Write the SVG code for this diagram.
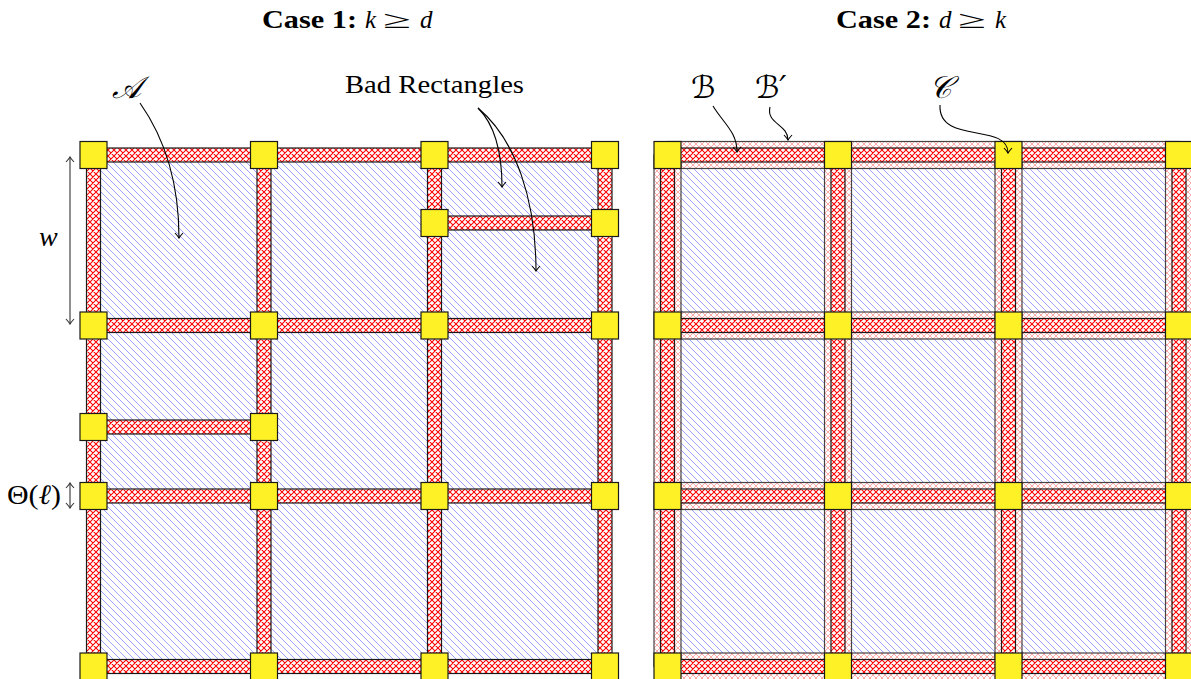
<svg xmlns="http://www.w3.org/2000/svg" width="1191" height="679" viewBox="0 0 1191 679">
<style>
.bar{fill:url(#red);stroke:#1a1a1a;stroke-width:1.2}
.band{fill:url(#lred);stroke:#444;stroke-width:1.2}
.sq{fill:#fef126;stroke:#1a1a1a;stroke-width:1.2}
.cell{fill:url(#blue)}
.arr{fill:none;stroke:#000;stroke-width:1.1}
.dim{fill:none;stroke:#333;stroke-width:1.1}
.t{font-family:"Liberation Serif","DejaVu Serif",serif;font-size:25px;fill:#000}
.b{font-weight:bold}
.i{font-style:italic}
.s{font-family:"DejaVu Serif","DejaVu Sans","Liberation Serif",serif;font-size:31px;font-style:italic}
</style>
<defs>
<pattern id="blue" patternUnits="userSpaceOnUse" width="7" height="7">
<rect width="7" height="7" fill="#fff"/>
<path d="M0,0 L7,7 M-1,6 L1,8 M6,-1 L8,1" stroke="#8f8fff" stroke-width="0.85"/>
</pattern>
<pattern id="red" patternUnits="userSpaceOnUse" width="6" height="6">
<rect width="6" height="6" fill="#fff"/>
<path d="M0,0 L6,6 M6,0 L0,6 M-1,1 L1,-1 M5,7 L7,5 M-1,5 L1,7 M5,-1 L7,1" stroke="#ff0000" stroke-width="1.05"/>
</pattern>
<pattern id="lred" patternUnits="userSpaceOnUse" width="6" height="6">
<rect width="6" height="6" fill="#fff"/>
<path d="M0,0 L6,6 M6,0 L0,6 M-1,1 L1,-1 M5,7 L7,5 M-1,5 L1,7 M5,-1 L7,1" stroke="#ffa8a8" stroke-width="1"/>
</pattern>
<marker id="ah" viewBox="-6 -5 8 10" markerWidth="8" markerHeight="10" refX="0" refY="0" orient="auto-start-reverse" markerUnits="userSpaceOnUse">
<path d="M-5,-4 Q-1.5,-0.8 0,0 Q-1.5,0.8 -5,4" fill="none" stroke="#000" stroke-width="1.1"/>
</marker>
<marker id="ahg" viewBox="-6 -5 8 10" markerWidth="8" markerHeight="10" refX="0" refY="0" orient="auto-start-reverse" markerUnits="userSpaceOnUse">
<path d="M-5,-4 Q-1.5,-0.8 0,0 Q-1.5,0.8 -5,4" fill="none" stroke="#333" stroke-width="1.1"/>
</marker>
</defs>
<rect width="1191" height="679" fill="#fff"/>

<!-- Titles -->
<g id="title1">
<text class="t b" x="262" y="28" textLength="95" lengthAdjust="spacingAndGlyphs">Case 1:</text>
<text class="t i" x="365" y="28">k</text>
<text class="t" x="383" y="28" textLength="28" lengthAdjust="spacingAndGlyphs">≥</text>
<text class="t i" x="420" y="28">d</text>
</g>
<g id="title2">
<text class="t b" x="836" y="28" textLength="95" lengthAdjust="spacingAndGlyphs">Case 2:</text>
<text class="t i" x="939" y="28">d</text>
<text class="t" x="958" y="28" textLength="28" lengthAdjust="spacingAndGlyphs">≥</text>
<text class="t i" x="995" y="28">k</text>
</g>

<!-- Case 1 -->
<g id="case1">
<g id="case1-cells">
<rect class="cell" x="93.5" y="155" width="511.5" height="511.5"/>
</g>
<g id="case1-bars">
<rect class="bar" x="93.5" y="148" width="511.5" height="14"/>
<rect class="bar" x="93.5" y="318.5" width="511.5" height="14"/>
<rect class="bar" x="93.5" y="489" width="511.5" height="14"/>
<rect class="bar" x="93.5" y="659.5" width="511.5" height="14"/>
<rect class="bar" x="86.5" y="155" width="14" height="511.5"/>
<rect class="bar" x="257" y="155" width="14" height="511.5"/>
<rect class="bar" x="427.5" y="155" width="14" height="511.5"/>
<rect class="bar" x="598" y="155" width="14" height="511.5"/>
<rect class="bar" x="434.5" y="216" width="170.5" height="14"/>
<rect class="bar" x="93.5" y="420" width="170.5" height="14"/>
</g>
<g id="case1-squares">
<rect class="sq" x="80" y="141.5" width="27" height="27"/>
<rect class="sq" x="250.5" y="141.5" width="27" height="27"/>
<rect class="sq" x="421" y="141.5" width="27" height="27"/>
<rect class="sq" x="591.5" y="141.5" width="27" height="27"/>
<rect class="sq" x="80" y="312" width="27" height="27"/>
<rect class="sq" x="250.5" y="312" width="27" height="27"/>
<rect class="sq" x="421" y="312" width="27" height="27"/>
<rect class="sq" x="591.5" y="312" width="27" height="27"/>
<rect class="sq" x="80" y="482.5" width="27" height="27"/>
<rect class="sq" x="250.5" y="482.5" width="27" height="27"/>
<rect class="sq" x="421" y="482.5" width="27" height="27"/>
<rect class="sq" x="591.5" y="482.5" width="27" height="27"/>
<rect class="sq" x="80" y="653" width="27" height="27"/>
<rect class="sq" x="250.5" y="653" width="27" height="27"/>
<rect class="sq" x="421" y="653" width="27" height="27"/>
<rect class="sq" x="591.5" y="653" width="27" height="27"/>
<rect class="sq" x="421" y="209.5" width="27" height="27"/>
<rect class="sq" x="591.5" y="209.5" width="27" height="27"/>
<rect class="sq" x="80" y="413.5" width="27" height="27"/>
<rect class="sq" x="250.5" y="413.5" width="27" height="27"/>
</g>
</g>

<!-- Case 2 -->
<g id="case2">
<g id="case2-cells">
<rect class="cell" x="667.5" y="155" width="524" height="511.5"/>
</g>
<g id="case2-bands">
<rect class="band" x="667.5" y="141.5" width="511.5" height="27"/>
<rect class="band" x="667.5" y="312" width="511.5" height="27"/>
<rect class="band" x="667.5" y="482.5" width="511.5" height="27"/>
<rect class="band" x="667.5" y="653" width="511.5" height="27"/>
<rect class="band" x="654" y="155" width="27" height="511.5"/>
<rect class="band" x="824.5" y="155" width="27" height="511.5"/>
<rect class="band" x="995" y="155" width="27" height="511.5"/>
<rect class="band" x="1165.5" y="155" width="27" height="511.5"/>
</g>
<g id="case2-bars">
<rect class="bar" x="667.5" y="148" width="511.5" height="14"/>
<rect class="bar" x="667.5" y="318.5" width="511.5" height="14"/>
<rect class="bar" x="667.5" y="489" width="511.5" height="14"/>
<rect class="bar" x="667.5" y="659.5" width="511.5" height="14"/>
<rect class="bar" x="660.5" y="155" width="14" height="511.5"/>
<rect class="bar" x="831" y="155" width="14" height="511.5"/>
<rect class="bar" x="1001.5" y="155" width="14" height="511.5"/>
<rect class="bar" x="1172" y="155" width="14" height="511.5"/>
</g>
<g id="case2-squares">
<rect class="sq" x="654" y="141.5" width="27" height="27"/>
<rect class="sq" x="824.5" y="141.5" width="27" height="27"/>
<rect class="sq" x="995" y="141.5" width="27" height="27"/>
<rect class="sq" x="1165.5" y="141.5" width="27" height="27"/>
<rect class="sq" x="654" y="312" width="27" height="27"/>
<rect class="sq" x="824.5" y="312" width="27" height="27"/>
<rect class="sq" x="995" y="312" width="27" height="27"/>
<rect class="sq" x="1165.5" y="312" width="27" height="27"/>
<rect class="sq" x="654" y="482.5" width="27" height="27"/>
<rect class="sq" x="824.5" y="482.5" width="27" height="27"/>
<rect class="sq" x="995" y="482.5" width="27" height="27"/>
<rect class="sq" x="1165.5" y="482.5" width="27" height="27"/>
<rect class="sq" x="654" y="653" width="27" height="27"/>
<rect class="sq" x="824.5" y="653" width="27" height="27"/>
<rect class="sq" x="995" y="653" width="27" height="27"/>
<rect class="sq" x="1165.5" y="653" width="27" height="27"/>
</g>
</g>

<!-- Labels -->
<g id="label-A"><text class="s" x="112" y="98">𝒜</text></g>
<g id="label-bad"><text class="t" x="345" y="93" textLength="179" lengthAdjust="spacingAndGlyphs">Bad Rectangles</text></g>
<g id="label-w"><text class="t i" x="39" y="246" style="font-size:28px">w</text></g>
<g id="label-theta"><text class="t" x="7" y="504" style="font-size:28px" textLength="54" lengthAdjust="spacingAndGlyphs">Θ(<tspan class="i">ℓ</tspan>)</text></g>
<g id="label-B"><text class="s" x="691" y="98">ℬ</text></g>
<g id="label-Bp"><text class="s" x="755" y="98">ℬ′</text></g>
<g id="label-C"><text class="s" x="929" y="98">𝒞</text></g>

<!-- Connectors -->
<g id="connectors">
<path class="arr" marker-end="url(#ah)" d="M140,103 C166,140 179,185 179,238"/>
<path class="arr" marker-end="url(#ah)" d="M478,108 C494,124 502,150 502,187"/>
<path class="arr" marker-end="url(#ah)" d="M478,108 C516,140 536,200 536,271"/>
<path class="arr" marker-end="url(#ah)" d="M713,106 C724,124 737,132 737,152"/>
<path class="arr" marker-end="url(#ah)" d="M770,107 C766,124 788,124 788,140"/>
<path class="arr" marker-end="url(#ah)" d="M940,105 C938,145 1008,122 1008,153"/>
<path class="dim" marker-start="url(#ahg)" marker-end="url(#ahg)" d="M70,157 L70,324"/>
<path class="dim" marker-start="url(#ahg)" marker-end="url(#ahg)" d="M70,483 L70,508"/>
</g>
</svg>
